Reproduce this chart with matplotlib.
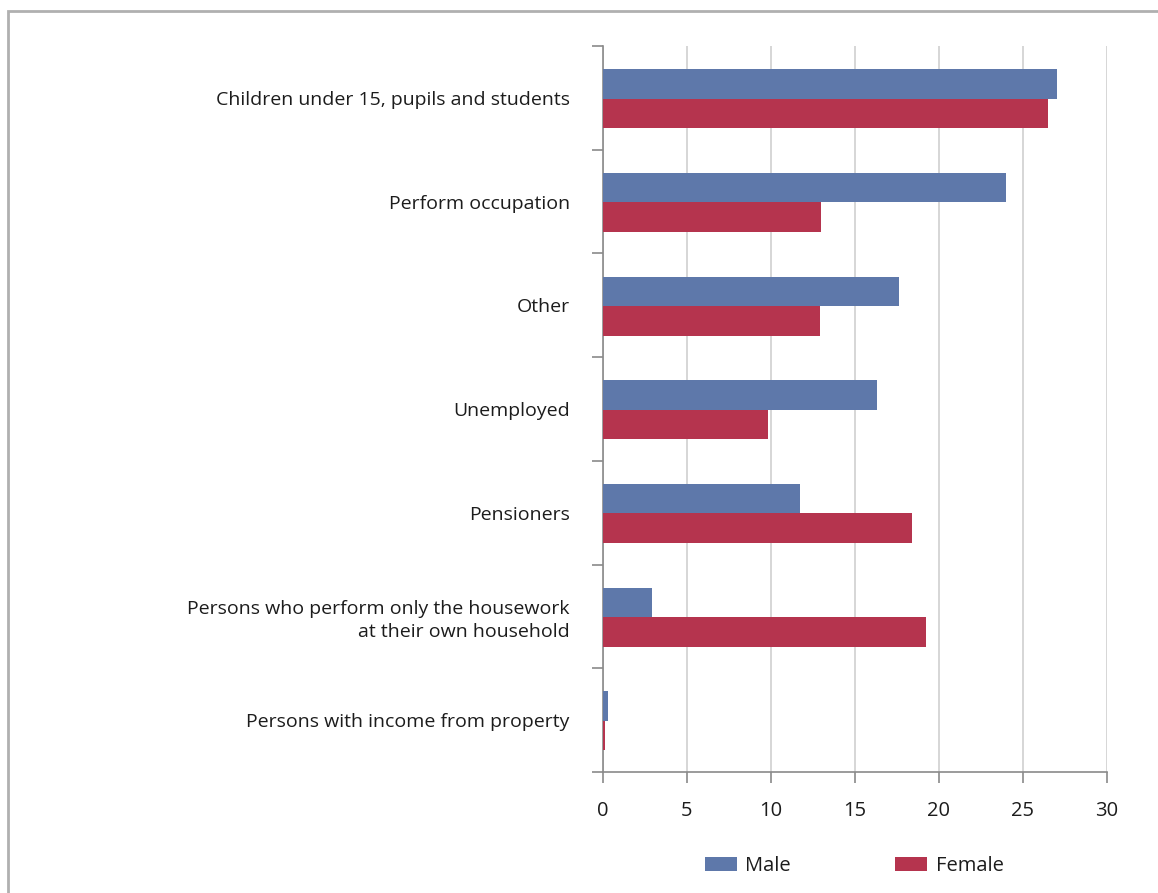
import matplotlib
matplotlib.use("Agg")
import matplotlib.pyplot as plt
from matplotlib.patches import Rectangle, Patch
import numpy as np

categories = [
    "Children under 15, pupils and students",
    "Perform occupation",
    "Other",
    "Unemployed",
    "Pensioners",
    "Persons who perform only the housework\nat their own household",
    "Persons with income from property",
]
male = [27.0, 24.0, 17.6, 16.3, 11.7, 2.9, 0.3]
female = [26.5, 13.0, 12.9, 9.8, 18.4, 19.2, 0.1]
x_ticks = [0, 5, 10, 15, 20, 25, 30]

male_color = "#5E78AA"
female_color = "#B5344E"
axis_gray = "#8a8a8a"
text_color = "#1c1c1c"

plt.rcParams["font.family"] = ["Open Sans", "DejaVu Sans"]

fig = plt.figure(figsize=(11.58, 8.93), dpi=100)
fig.patch.set_facecolor("white")

# outer frame around the chart panel
fig.add_artist(Rectangle((8 / 1158, -0.05), 1.2, 1 - 11 / 893 + 0.05,
                         transform=fig.transFigure, fill=False,
                         edgecolor="#b0b0b0", linewidth=2.0))

ax = fig.add_axes([603 / 1158, 1 - 772 / 893, (1107 - 603) / 1158, (772 - 46) / 893])

y = np.arange(len(categories))
h = 0.285
ax.barh(y - 0.135, male, height=h, color=male_color, label="Male", zorder=3)
ax.barh(y + 0.15, female, height=h, color=female_color, label="Female", zorder=3)

ax.set_xlim(0, 30)
ax.set_ylim(len(categories) - 0.5, -0.5)
ax.set_xticks(x_ticks)
ax.set_xticklabels([str(t) for t in x_ticks], fontsize=14.5, color=text_color)

# category boundaries carry the ticks, labels sit at the centres
ax.set_yticks(np.arange(-0.5, len(categories), 1.0))
ax.set_yticklabels([])
ax.set_yticks(y, minor=True)
ax.set_yticklabels(categories, minor=True, fontsize=14, color=text_color,
                   linespacing=1.3)
ax.tick_params(axis="y", which="minor", length=0, pad=24)
ax.tick_params(axis="y", which="major", length=8, color=axis_gray, width=1.2)
ax.tick_params(axis="x", length=8, color=axis_gray, width=1.2, pad=13)

ax.xaxis.grid(True, color="#cfcfcf", linewidth=1.2, zorder=0)
ax.set_axisbelow(True)
for side in ("top", "right"):
    ax.spines[side].set_visible(False)
for side in ("left", "bottom"):
    ax.spines[side].set_color(axis_gray)
    ax.spines[side].set_linewidth(1.2)

handles = [Patch(facecolor=male_color, label="Male"),
           Patch(facecolor=female_color, label="Female")]
leg = fig.legend(handles=handles, loc="center", bbox_to_anchor=(854 / 1158, 1 - 866 / 893),
                 ncol=2, frameon=False, fontsize=14.5, handlelength=1.6, handleheight=0.65,
                 handletextpad=0.4, columnspacing=5.2)
for t in leg.get_texts():
    t.set_color(text_color)

fig.savefig("out.png", dpi=100, facecolor="white")
